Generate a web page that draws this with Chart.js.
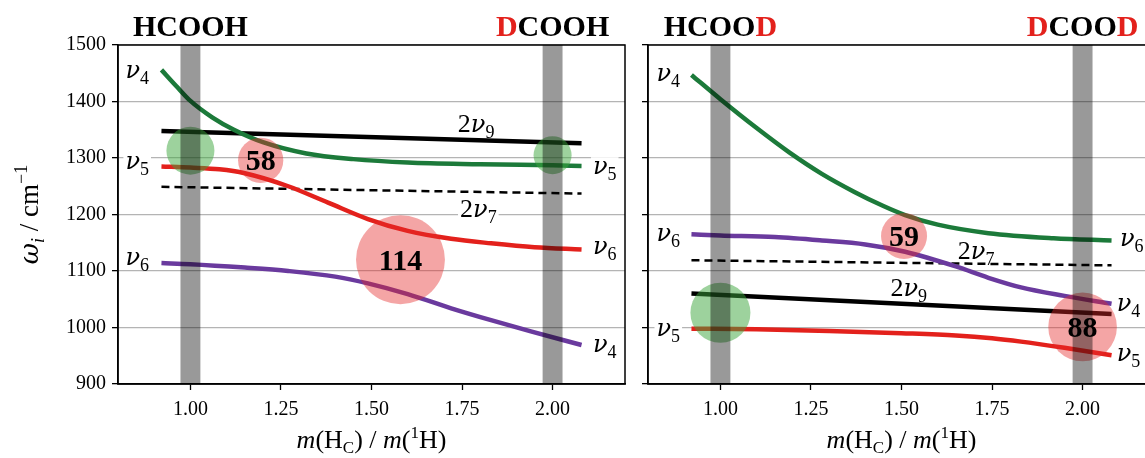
<!DOCTYPE html>
<html>
<head>
<meta charset="utf-8">
<script src="https://cdn.jsdelivr.net/npm/chart.js@4.4.1/dist/chart.umd.min.js"></script>
<style>
  html, body { margin: 0; padding: 0; background: #fff; overflow: hidden; width: 1145px; height: 458px; }
  #left { position: absolute; left: 0; top: 0; }
  #right { position: absolute; left: 630px; top: 0; }
</style>
</head>
<body>
<canvas id="left" width="630" height="458"></canvas>
<canvas id="right" width="540" height="458"></canvas>
<script>
// x ticks shared by both panels
const xTicks = [1.00, 1.25, 1.50, 1.75, 2.00];
const bandCenters = [1.00, 2.00];

// ---- left panel: HCOOH -> DCOOH ----
const leftGreenX  = [0.92, 0.96, 1.00, 1.06, 1.12, 1.20, 1.32, 1.45, 1.60, 1.80, 2.00, 2.08];
const leftGreenY  = [1456, 1428, 1401, 1372, 1350, 1328, 1308, 1298, 1292, 1289, 1287, 1286];
const leftRedX    = [0.92, 1.00, 1.08, 1.15, 1.27, 1.38, 1.49, 1.60, 1.72, 1.83, 1.95, 2.08];
const leftRedY    = [1285, 1283, 1280, 1273, 1250, 1221, 1192, 1171, 1157, 1149, 1142, 1138];
const leftPurpleX = [0.92, 1.00, 1.15, 1.27, 1.40, 1.49, 1.60, 1.72, 1.83, 1.94, 2.08];
const leftPurpleY = [1114, 1112, 1106, 1100, 1090, 1078, 1059, 1034, 1013, 993, 969];
const leftNu9X = [0.92, 2.08], leftNu9Y = [1348, 1326];   // 2nu9
const leftNu7X = [0.92, 2.08], leftNu7Y = [1249, 1237];   // 2nu7
const leftCouplingX = [1.194, 1.58];
const leftCouplingY = [1296, 1120];
const leftCouplingV = [58, 114];
const leftGreenBubX = [1.00, 2.00];
const leftGreenBubY = [1313, 1305];

// ---- right panel: HCOOD -> DCOOD ----
const rightGreenX  = [0.92, 1.00, 1.10, 1.19, 1.28, 1.37, 1.45, 1.51, 1.60, 1.74, 1.92, 2.08];
const rightGreenY  = [1447, 1404, 1353, 1310, 1272, 1240, 1215, 1199, 1182, 1167, 1158, 1154];
const rightPurpleX = [0.92, 1.00, 1.15, 1.28, 1.40, 1.51, 1.65, 1.74, 1.83, 1.95, 2.08];
const rightPurpleY = [1165, 1163, 1160, 1154, 1147, 1134, 1108, 1088, 1071, 1056, 1042];
const rightRedX    = [0.92, 1.10, 1.30, 1.50, 1.65, 1.75, 1.83, 1.95, 2.08];
const rightRedY    = [998, 997, 994, 990, 986, 981, 975, 964, 951];
const rightNu9X = [0.92, 2.08], rightNu9Y = [1060, 1024];
const rightNu7X = [0.92, 2.08], rightNu7Y = [1119, 1110];
const rightCouplingX = [1.507, 2.00];
const rightCouplingY = [1162, 1001];
const rightCouplingV = [59, 88];
const rightGreenBubX = [1.00];
const rightGreenBubY = [1026];

const SERIF = '"Liberation Serif", "DejaVu Serif", serif';
const RED = '#e3211c', GREEN = '#1c7a3a', PURPLE = '#6a3a9e';

function pts(xs, ys) { return xs.map((x, i) => ({ x: x, y: ys[i] })); }

function lineDs(xs, ys, color, dash) {
  return {
    type: 'scatter', data: pts(xs, ys), showLine: true, order: 1,
    borderColor: color, borderWidth: dash ? 2.5 : 4.5, borderDash: dash ? [8, 5] : [],
    pointRadius: 0, cubicInterpolationMode: 'monotone', borderCapStyle: 'butt'
  };
}
function bubbleDs(xs, ys, radii, color) {
  return {
    type: 'bubble', order: 0,
    data: xs.map((x, i) => ({ x: x, y: ys[i], r: radii[i] })),
    backgroundColor: color, borderWidth: 0
  };
}

// draw text made of pieces [text, font, dy, color]
function rich(ctx, parts, x, y, align, bg) {
  let w = 0;
  parts.forEach(p => { ctx.font = p[1]; w += ctx.measureText(p[0]).width; });
  let cx = align === 'center' ? x - w / 2 : (align === 'right' ? x - w : x);
  if (bg) { ctx.fillStyle = '#fff'; ctx.fillRect(cx - 2, y - 17, w + 4, 26); }
  ctx.textAlign = 'left'; ctx.textBaseline = 'alphabetic';
  parts.forEach(p => {
    ctx.font = p[1]; ctx.fillStyle = p[3] || '#000';
    ctx.fillText(p[0], cx, y + (p[2] || 0));
    cx += ctx.measureText(p[0]).width;
  });
}
const nu = n => [['ν', 'italic 24px "DejaVu Serif"'], [n, '18px ' + SERIF, 6]];
const twoNu = n => [['2', '26px ' + SERIF]].concat(nu(n));
const formula = s => s.split('').map(ch => [ch, 'bold 30px ' + SERIF, 0, ch === 'D' ? RED : '#000']);

const panelPlugin = {
  id: 'panel',
  afterDatasetsDraw(chart, args, o) {
    const { ctx, chartArea: a } = chart, x = chart.scales.x, y = chart.scales.y;
    ctx.save();
    ctx.fillStyle = 'rgba(0,0,0,0.4)';
    bandCenters.forEach(c => {
      const l = x.getPixelForValue(c - 0.0275), r = x.getPixelForValue(c + 0.0275);
      ctx.fillRect(l, a.top, r - l, a.bottom - a.top);
    });
    o.numbers.forEach(n => {
      rich(ctx, [[String(n.v), 'bold 30px ' + SERIF]], x.getPixelForValue(n.x), y.getPixelForValue(n.y) + 10, 'center');
    });
    o.labels.forEach(l => {
      rich(ctx, l.parts, x.getPixelForValue(l.x), y.getPixelForValue(l.y) + 6, 'center', l.bg);
    });
    ctx.strokeStyle = '#000'; ctx.lineWidth = 1.5;
    ctx.strokeRect(a.left, a.top, a.right - a.left, a.bottom - a.top);
    ctx.restore();
  },
  afterDraw(chart, args, o) {
    const { ctx, chartArea: a } = chart, x = chart.scales.x;
    ctx.save();
    rich(ctx, formula(o.titles[0]), x.getPixelForValue(1), 36, 'center');
    rich(ctx, formula(o.titles[1]), x.getPixelForValue(2), 36, 'center');
    const f = '26px ' + SERIF, fi = 'italic 26px ' + SERIF, fs = '17px ' + SERIF;
    rich(ctx, [['m', fi], ['(H', f], ['C', fs, 5], [') / ', f], ['m', fi], ['(', f], ['1', fs, -10], ['H)', f]],
      (a.left + a.right) / 2, 448, 'center');
    if (o.yTitle) {
      ctx.translate(38, (a.top + a.bottom) / 2);
      ctx.rotate(-Math.PI / 2);
      rich(ctx, [['ω', 'italic 26px "DejaVu Serif"'], ['i', 'italic 18px ' + SERIF, 6], [' / cm', '27px ' + SERIF], ['−1', '18px ' + SERIF, -11]], 0, 0, 'center');
    }
    ctx.restore();
  }
};

function makePanel(id, datasets, yWidth, padRight, showY, opts) {
  return new Chart(document.getElementById(id), {
    type: 'scatter',
    data: { datasets: datasets },
    plugins: [panelPlugin],
    options: {
      responsive: false, animation: false, events: [],
      layout: { autoPadding: false, padding: { top: 45, right: padRight, left: 0, bottom: 0 } },
      plugins: { legend: { display: false }, tooltip: { enabled: false }, panel: opts },
      scales: {
        x: {
          type: 'linear', min: 0.8, max: 2.2,
          afterBuildTicks: s => { s.ticks = xTicks.map(v => ({ value: v })); },
          afterFit: s => { s.height = 74; },
          ticks: { callback: v => v.toFixed(2), color: '#000', font: { family: SERIF, size: 20 }, padding: 8, maxRotation: 0 },
          grid: { drawOnChartArea: false, tickLength: 6, tickColor: '#000', tickWidth: 1.3 },
          border: { color: '#000', width: 1.5 }
        },
        y: {
          min: 900, max: 1500,
          afterFit: s => { s.width = yWidth; },
          ticks: { stepSize: 100, display: showY, callback: v => String(v), color: '#000', font: { family: SERIF, size: 20 }, padding: 6 },
          grid: { color: '#b4b4b4', lineWidth: 1.3, tickLength: 6, tickColor: '#000', tickWidth: 1.3 },
          border: { color: '#000', width: 1.5 }
        }
      }
    }
  });
}

const bubR = v => v * 0.39;
const pinkFill = 'rgba(228,40,40,0.42)', greenFill = 'rgba(60,165,60,0.5)';

makePanel('left', [
  bubbleDs(leftCouplingX, leftCouplingY, leftCouplingV.map(bubR), pinkFill),
  bubbleDs(leftGreenBubX, leftGreenBubY, [24, 19], greenFill),
  lineDs(leftGreenX, leftGreenY, GREEN),
  lineDs(leftRedX, leftRedY, RED),
  lineDs(leftPurpleX, leftPurpleY, PURPLE),
  lineDs(leftNu9X, leftNu9Y, '#000'),
  lineDs(leftNu7X, leftNu7Y, '#000', true)
], 118, 5, true, {
  titles: ['HCOOH', 'DCOOH'], yTitle: true,
  numbers: leftCouplingX.map((x, i) => ({ x: x, y: leftCouplingY[i], v: leftCouplingV[i] })),
  labels: [
    { parts: nu('4'), x: 0.853, y: 1453 },
    { parts: nu('5'), x: 0.853, y: 1291, bg: true },
    { parts: nu('6'), x: 0.853, y: 1122 },
    { parts: nu('5'), x: 2.144, y: 1282, bg: true },
    { parts: nu('6'), x: 2.144, y: 1140 },
    { parts: nu('4'), x: 2.144, y: 967 },
    { parts: twoNu('9'), x: 1.789, y: 1356 },
    { parts: twoNu('7'), x: 1.795, y: 1206, bg: true }
  ]
});

makePanel('right', [
  bubbleDs(rightCouplingX, rightCouplingY, rightCouplingV.map(bubR), pinkFill),
  bubbleDs(rightGreenBubX, rightGreenBubY, [30], greenFill),
  lineDs(rightGreenX, rightGreenY, GREEN),
  lineDs(rightPurpleX, rightPurpleY, PURPLE),
  lineDs(rightRedX, rightRedY, RED),
  lineDs(rightNu9X, rightNu9Y, '#000'),
  lineDs(rightNu7X, rightNu7Y, '#000', true)
], 18, 15, false, {
  titles: ['HCOOD', 'DCOOD'], yTitle: false,
  numbers: rightCouplingX.map((x, i) => ({ x: x, y: rightCouplingY[i], v: rightCouplingV[i] })),
  labels: [
    { parts: nu('4'), x: 0.856, y: 1447 },
    { parts: nu('6'), x: 0.856, y: 1164 },
    { parts: nu('5'), x: 0.856, y: 996, bg: true },
    { parts: nu('6'), x: 2.136, y: 1155 },
    { parts: nu('4'), x: 2.127, y: 1040 },
    { parts: nu('5'), x: 2.127, y: 951 },
    { parts: twoNu('7'), x: 1.706, y: 1132 },
    { parts: twoNu('9'), x: 1.52, y: 1066 }
  ]
});
</script>
</body>
</html>
